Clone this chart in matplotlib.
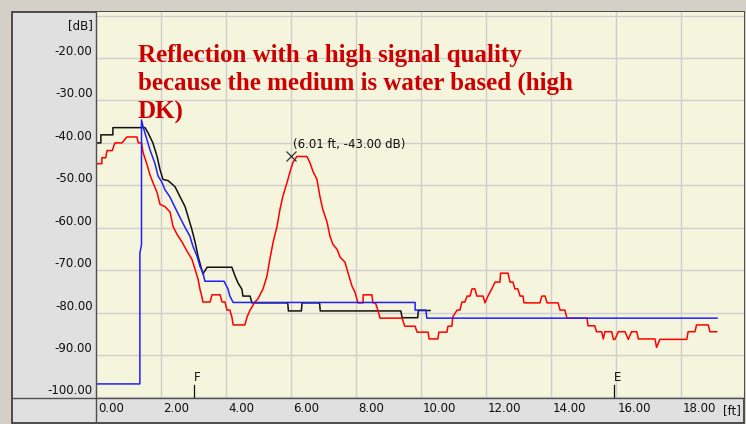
import matplotlib
matplotlib.use("Agg")
import matplotlib.pyplot as plt
from matplotlib.patches import Rectangle
from matplotlib.lines import Line2D
from matplotlib.transforms import ScaledTranslation

# ---------------- data ----------------
x_ticks = [0, 2, 4, 6, 8, 10, 12, 14, 16, 18]
y_ticks = [-10, -20, -30, -40, -50, -60, -70, -80, -90, -100]

black_ft = [0, 0.15, 0.15, 0.52, 0.52, 1.51, 1.6, 1.75, 1.88, 1.97,
            2.06, 2.22, 2.43, 2.58, 2.74, 2.83, 2.95, 3.05, 3.14, 3.29,
            3.42, 4.18, 4.28, 4.37, 4.49, 4.52, 4.74, 4.8, 5.9, 5.92,
            6.32, 6.34, 6.88, 6.9, 9.38, 9.42, 9.9, 9.92, 10.28]
black_db = [-40, -40, -38.1, -38.1, -36.4, -36.4, -37.6, -40, -43.2, -46.3,
            -48.6, -48.9, -50.3, -52.6, -55, -57.3, -60.4, -63.4, -66.7, -70.9,
            -69.3, -69.3, -71.4, -73, -74.5, -76.1, -76.1, -77.7, -77.7, -79.6,
            -79.6, -77.7, -77.7, -79.6, -79.6, -81.2, -81.2, -79.5, -79.5]

blue_ft = [0, 1.35, 1.35, 1.4, 1.4, 1.45, 1.57, 1.66, 1.82, 1.91,
           2.03, 2.12, 2.28, 2.43, 2.58, 2.74, 2.89, 2.98, 3.11, 3.2,
           3.29, 3.35, 3.94, 4.06, 4.12, 4.22, 9.82, 9.82, 10.15, 10.18,
           19.11]
blue_db = [-96.8, -96.8, -66, -64, -34.6, -36.2, -39.3, -41.6, -45, -47.8,
           -49.3, -51, -52.8, -55.2, -57.5, -59.9, -62, -64.3, -66.7, -69.1,
           -70.5, -72.6, -72.6, -74.4, -76.1, -77.6, -77.6, -79.4, -79.4, -81.3,
           -81.3]

red_ft = [0, 0.18, 0.18, 0.3, 0.34, 0.5, 0.58, 0.8, 0.95, 1.26,
          1.3, 1.4, 1.45, 1.57, 1.66, 1.75, 1.88, 1.97, 2.12, 2.28,
          2.37, 2.49, 2.65, 2.8, 2.95, 3.05, 3.14, 3.2, 3.26, 3.29,
          3.51, 3.57, 3.82, 3.88, 3.97, 4.03, 4.12, 4.18, 4.22, 4.58,
          4.65, 4.74, 4.89, 4.98, 5.14, 5.26, 5.35, 5.45, 5.57, 5.66,
          5.75, 5.88, 5.97, 6.06, 6.18, 6.49, 6.58, 6.68, 6.8, 6.89,
          6.98, 7.11, 7.2, 7.29, 7.42, 7.51, 7.66, 7.75, 7.88, 7.97,
          8.06, 8.22, 8.22, 8.49, 8.52, 8.6, 8.68, 8.74, 9.42, 9.5,
          9.82, 9.88, 10.22, 10.25, 10.52, 10.55, 10.8, 10.83, 10.95, 10.98,
          11.11, 11.2, 11.26, 11.35, 11.42, 11.51, 11.57, 11.66, 11.72, 11.91,
          11.97, 12.06, 12.18, 12.28, 12.43, 12.45, 12.68, 12.74, 12.83, 12.89,
          12.98, 13.05, 13.14, 13.17, 13.66, 13.72, 13.82, 13.88, 14.22, 14.28,
          14.43, 14.49, 15.11, 15.14, 15.35, 15.4, 15.56, 15.61, 15.66, 15.87,
          15.92, 15.97, 16.07, 16.28, 16.38, 16.48, 16.64, 16.69, 17.2, 17.25,
          17.35, 18.18, 18.22, 18.43, 18.48, 18.84, 18.89, 19.1]
red_db = [-44.9, -44.9, -43.5, -43.5, -41.8, -41.8, -40, -40, -38.6, -38.6,
          -40, -40, -42.3, -45.1, -47.5, -49.3, -51.7, -54.5, -55, -56.3,
          -59.7, -61.5, -63.4, -65.5, -67.4, -69.8, -72.1, -74.5, -76.3, -77.5,
          -77.5, -75.8, -75.8, -77.5, -77.5, -79.4, -79.4, -81, -82.9, -82.9,
          -81, -79.4, -77.5, -76.8, -74.4, -71.4, -67.4, -63.4, -59.7, -55.7,
          -52.6, -49.3, -46.8, -44.6, -43.2, -43.2, -44.6, -46.8, -48.6, -52.6,
          -55.7, -58.7, -62, -63.9, -65.1, -66.9, -68.1, -70.5, -73.8, -75.2,
          -77.7, -77.7, -75.8, -75.8, -77.7, -77.7, -79.6, -81.3, -81.3, -83.2,
          -83.2, -84.6, -84.6, -86.2, -86.2, -84.6, -84.6, -83.2, -83.2, -81,
          -79.4, -79.4, -77.5, -77.5, -76.1, -76.1, -74.4, -74.4, -76.1, -76.1,
          -77.7, -76.1, -74.4, -72.8, -72.8, -70.7, -70.7, -72.8, -72.8, -74.4,
          -74.4, -76.1, -76.1, -77.7, -77.7, -76.1, -76.1, -77.7, -77.7, -79.4,
          -79.4, -81.3, -81.3, -83.1, -83.1, -84.5, -84.5, -86.2, -84.5, -84.5,
          -86.3, -86.3, -84.5, -84.5, -86.3, -84.5, -84.5, -86.2, -86.2, -88.2,
          -86.3, -86.3, -84.5, -84.5, -82.9, -82.9, -84.5, -84.5]

marker_names = ["F", "E"]
marker_ft = [3.02, 15.94]

cursor_ft = 6.01
cursor_db = -43.0

headline = ["Reflection with a high signal quality",
            "because the medium is water based (high",
            "DK)"]

# ---------------- layout ----------------
W, H = 746, 424
fig = plt.figure(figsize=(W / 100, H / 100), dpi=100, facecolor="#d4d0c8")


def fx(p):
    return p / W


def fy(p):
    return 1 - p / H


small = dict(family="DejaVu Sans", size=8.5, color="#101010")

fig.add_artist(Rectangle((fx(12), fy(423)), fx(744) - fx(12), fy(12) - fy(423),
                         transform=fig.transFigure, facecolor="#e0e0e0",
                         edgecolor="#404040", lw=1.3, zorder=-2))

ax = fig.add_axes([fx(96), fy(397.5), fx(744) - fx(96), fy(12) - fy(397.5)])
ax.set_facecolor("#f5f4dc")
ax.set_xlim(0, 19.94)
ax.set_ylim(-100, -9.15)
for s in ax.spines.values():
    s.set_visible(False)

ax.set_xticks(x_ticks, labels=[f"{v:.2f}" for v in x_ticks])
ax.set_yticks(y_ticks, labels=["" if v == -10 else f"{v:.2f}" for v in y_ticks])
ax.grid(True, color="#cfcfcf", lw=1.0)
ax.set_axisbelow(True)
ax.tick_params(axis="x", length=0, pad=3.5, labelsize=8.5, labelcolor="#101010")
ax.tick_params(axis="y", length=0, pad=2.5, labelsize=8.5, labelcolor="#101010")
off = ScaledTranslation(2 / 100, 0, fig.dpi_scale_trans)
for lbl in ax.get_xticklabels():
    lbl.set_ha("left")
    lbl.set_transform(lbl.get_transform() + off)
for lbl in ax.get_yticklabels():
    lbl.set_va("bottom")

# separators
fig.add_artist(Line2D([fx(12), fx(744)], [fy(397.5)] * 2, transform=fig.transFigure,
                      color="#505050", lw=1.0, zorder=5))
fig.add_artist(Line2D([fx(96)] * 2, [fy(12), fy(423)], transform=fig.transFigure,
                      color="#505050", lw=1.0, zorder=5))

# series
ax.plot(black_ft, black_db, color="#111111", lw=1.1, zorder=3)
ax.plot(red_ft, red_db, color="#ff0000", lw=1.1, zorder=4)
ax.plot(blue_ft, blue_db, color="#2020ff", lw=1.1, zorder=5)

# event markers
for name, xv in zip(marker_names, marker_ft):
    ax.plot([xv, xv], [-100, -97.1], color="#101010", lw=0.9, zorder=6)
    ax.text(xv, -95.3, name, ha="left", va="center", **small)

# cursor
ax.plot(cursor_ft, cursor_db, marker="x", ms=6.5, mew=0.9, color="#333333", zorder=7)
ax.annotate(f"({cursor_ft:.2f} ft, {cursor_db:.2f} dB)", xy=(cursor_ft, cursor_db),
            xytext=(1.5, 8.3), textcoords="offset points", ha="left", va="center",
            **small)

# axis unit labels
fig.text(fx(93), fy(26), "[dB]", ha="right", va="center", **small)
fig.text(fx(723), fy(411), "[ft]", ha="left", va="center", **small)

# headline
for i, line in enumerate(headline):
    fig.text(fx(138), fy(61.7 + 28.2 * i), line, ha="left", va="baseline",
             family="Liberation Serif", weight="bold", size=18, color="#cc0000",
             zorder=10)

fig.savefig("out.png", dpi=100, facecolor=fig.get_facecolor())
